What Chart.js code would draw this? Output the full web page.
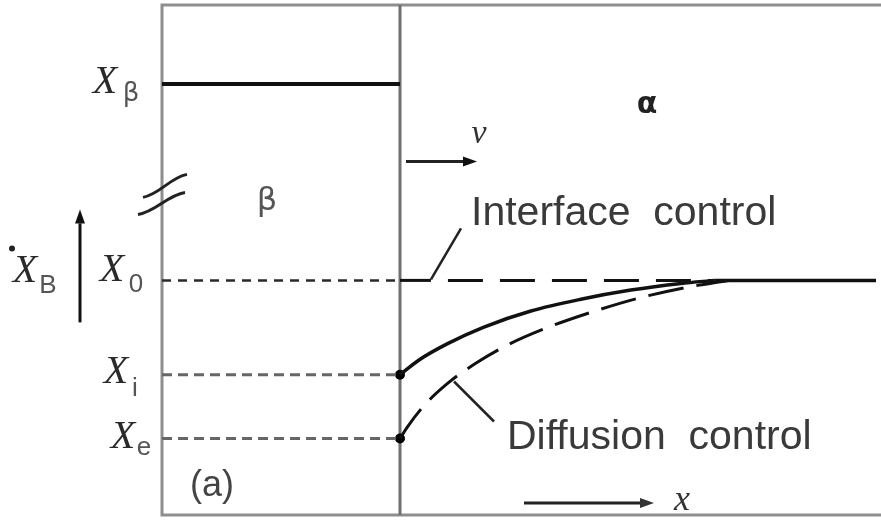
<!DOCTYPE html>
<html>
<head>
<meta charset="utf-8">
<script src="https://cdn.jsdelivr.net/npm/chart.js@4.4.1/dist/chart.umd.min.js"></script>
<style>
  html, body { margin: 0; padding: 0; background: #fff; }
  #wrap { position: relative; width: 881px; height: 520px; }
</style>
</head>
<body>
<div id="wrap"><canvas id="profile"></canvas></div>
<script>
// Composition levels along the X_B axis (plotting units, axis is broken above X0)
const LEVEL_SUBS   = ['e', 'i', '0', 'β'];
const LEVEL_VALUES = [1.5, 2.75, 4.6, 8.45];
const [X_E, X_I, X_0, X_BETA] = LEVEL_VALUES;

// Distance from the β/α interface; β sits on the negative side
const X_RANGE = [-1, 2];
const Y_RANGE = [0, 10];

// Mixed control profile in α (starts at Xi on the interface)
const mixedX = [0, 0.08, 0.2, 0.35, 0.55, 0.76, 0.97, 1.18, 1.32];
const mixedY = [2.75, 3.04, 3.36, 3.68, 4.0, 4.23, 4.41, 4.54, 4.6];

// Diffusion control profile in α (starts at Xe on the interface)
const diffX = [0, 0.03, 0.1, 0.2, 0.32, 0.45, 0.6, 0.8, 1.0, 1.2, 1.38];
const diffY = [1.5, 1.72, 2.14, 2.58, 2.98, 3.33, 3.64, 3.97, 4.25, 4.46, 4.6];

// Interface control: flat at X0 — solid stub, dashed run, then solid far field
const flatBreaks = [0, 0.13, 1.32, 2.0];

const pts = (xs, ys) => xs.map((x, i) => ({ x, y: ys[i] }));
const hline = (x0, x1, y) => [{ x: x0, y }, { x: x1, y }];

function lineSet(data, color, width, dash, extra) {
  return Object.assign({
    data,
    showLine: true,
    borderColor: color,
    borderWidth: width,
    borderDash: dash || [],
    pointRadius: 0,
    fill: false
  }, extra || {});
}

// ── Frame: β box, interface, top edge ─────────────────────────────────────
const framePlugin = {
  id: 'frame',
  beforeDatasetsDraw(chart) {
    const { ctx, chartArea: a, scales: { x } } = chart;
    ctx.save();
    ctx.strokeStyle = '#8e8e8e';
    ctx.lineWidth = 3;
    ctx.beginPath();
    ctx.moveTo(chart.width, a.top);
    ctx.lineTo(a.left, a.top);
    ctx.lineTo(a.left, a.bottom);
    ctx.lineTo(chart.width, a.bottom);
    ctx.stroke();
    ctx.strokeStyle = '#707070';
    ctx.beginPath();
    ctx.moveTo(x.getPixelForValue(0), a.top);
    ctx.lineTo(x.getPixelForValue(0), a.bottom);
    ctx.stroke();
    ctx.restore();
  }
};

// ── Labels, arrows and leaders ────────────────────────────────────────────
function arrow(ctx, x0, y0, x1, y1) {
  const ang = Math.atan2(y1 - y0, x1 - x0);
  const len = 14, half = 5;
  ctx.beginPath();
  ctx.moveTo(x0, y0);
  ctx.lineTo(x1 - Math.cos(ang) * len, y1 - Math.sin(ang) * len);
  ctx.stroke();
  ctx.beginPath();
  ctx.moveTo(x1, y1);
  ctx.lineTo(x1 - Math.cos(ang) * len - Math.sin(ang) * half, y1 - Math.sin(ang) * len + Math.cos(ang) * half);
  ctx.lineTo(x1 - Math.cos(ang) * len + Math.sin(ang) * half, y1 - Math.sin(ang) * len - Math.cos(ang) * half);
  ctx.closePath();
  ctx.fill();
}

function wave(ctx, x0, y0, x1, y1) {
  const dx = x1 - x0, dy = y1 - y0;
  const d = Math.hypot(dx, dy), nx = -dy / d * 5, ny = dx / d * 5;
  ctx.beginPath();
  ctx.moveTo(x0, y0);
  ctx.bezierCurveTo(x0 + dx / 3 + nx, y0 + dy / 3 + ny, x0 + 2 * dx / 3 - nx, y0 + 2 * dy / 3 - ny, x1, y1);
  ctx.stroke();
}

function text(ctx, str, x, y, font, color, align, base) {
  ctx.font = font;
  ctx.fillStyle = color;
  ctx.textAlign = align || 'center';
  ctx.textBaseline = base || 'middle';
  ctx.fillText(str, x, y);
}

const annotatePlugin = {
  id: 'annotate',
  afterDatasetsDraw(chart) {
    const { ctx, scales: { x, y } } = chart;
    const left = x.getPixelForValue(X_RANGE[0]);
    const iface = x.getPixelForValue(0);
    const bottom = y.getPixelForValue(Y_RANGE[0]);
    const XFONT = 'italic 40px "Liberation Serif"';
    const SUBFONT = '26px "Liberation Sans"';
    ctx.save();

    // level labels X_e, X_i, X_0, X_β  (offsets: X centre dx,dy ; subscript dx,dy)
    const place = [[-39, -1, -18, 9], [-46, -2, -27, 14], [-50, -10, -26, 4], [-57, -2, -31, 10]];
    LEVEL_VALUES.forEach((v, i) => {
      const ly = y.getPixelForValue(v);
      const p = place[i];
      text(ctx, 'X', left + p[0], ly + p[1], XFONT, '#2a2a2a');
      text(ctx, LEVEL_SUBS[i], left + p[2], ly + p[3],
        LEVEL_SUBS[i] === 'β' ? '26px "DejaVu Sans"' : SUBFONT, '#555');
    });

    // axis label •X_B with upward arrow
    const y0 = y.getPixelForValue(X_0);
    ctx.fillStyle = '#222';
    ctx.beginPath(); ctx.arc(12, y0 - 32, 3, 0, Math.PI * 2); ctx.fill();
    text(ctx, 'X', 25, y0 - 9, XFONT, '#2a2a2a');
    text(ctx, 'B', 48, y0 + 5, SUBFONT, '#555');
    ctx.strokeStyle = '#111';
    ctx.fillStyle = '#111';
    ctx.lineWidth = 3;
    arrow(ctx, 80, y0 + 42, 80, y0 - 71);

    // axis break on the left edge
    ctx.lineWidth = 3;
    ctx.strokeStyle = '#222';
    wave(ctx, left - 19, y0 - 83, left + 25, y0 - 106);
    wave(ctx, left - 24, y0 - 66, left + 23, y0 - 88);

    // phase names
    text(ctx, 'β', left + 105, y0 - 79, '32px "DejaVu Sans"', '#555');
    text(ctx, 'α', iface + 247, y.getPixelForValue(X_BETA) + 21, 'bold 30px "DejaVu Sans"', '#222');
    text(ctx, '(a)', left + 50, bottom - 29, '36px "Liberation Sans"', '#444');

    // interface velocity
    ctx.lineWidth = 3;
    ctx.strokeStyle = '#222';
    ctx.fillStyle = '#111';
    arrow(ctx, iface + 6, y0 - 119, iface + 77, y0 - 119);
    text(ctx, 'v', iface + 79, y0 - 146, 'italic 34px "Liberation Serif"', '#333');

    // distance axis
    arrow(ctx, iface + 124, bottom - 12, iface + 254, bottom - 12);
    text(ctx, 'x', iface + 282, bottom - 14, 'italic 36px "Liberation Serif"', '#333');

    // leaders and captions
    ctx.lineWidth = 2.5;
    ctx.strokeStyle = '#222';
    ctx.beginPath();
    ctx.moveTo(iface + 31, y0 - 1);
    ctx.lineTo(iface + 61, y0 - 52);
    ctx.stroke();
    text(ctx, 'Interface  control', iface + 71, y0 - 55, '41px "Liberation Sans"', '#3a3a3a', 'left', 'alphabetic');

    const ye = y.getPixelForValue(X_E);
    ctx.beginPath();
    ctx.moveTo(iface + 54, ye - 57);
    ctx.lineTo(iface + 94, ye - 17);
    ctx.stroke();
    text(ctx, 'Diffusion  control', iface + 107, ye + 10, '41px "Liberation Sans"', '#3a3a3a', 'left', 'alphabetic');

    ctx.restore();
  }
};

// ── Chart ─────────────────────────────────────────────────────────────────
const datasets = [
  lineSet(hline(X_RANGE[0], 0, X_BETA), '#111', 4),
  lineSet(hline(X_RANGE[0], 0, X_0), '#2a2a2a', 2.5, [9, 7]),
  lineSet(hline(X_RANGE[0], 0, X_I), '#666', 3, [10, 6]),
  lineSet(hline(X_RANGE[0], 0, X_E), '#666', 3, [10, 6]),
  lineSet(hline(flatBreaks[0], flatBreaks[1], X_0), '#111', 3),
  lineSet(hline(flatBreaks[1], flatBreaks[2], X_0), '#111', 3, [35, 17], { borderDashOffset: 35 }),
  lineSet(hline(flatBreaks[2], flatBreaks[3], X_0), '#111', 3.5),
  lineSet(pts(mixedX, mixedY), '#111', 3.5, [], { cubicInterpolationMode: 'monotone' }),
  lineSet(pts(diffX, diffY), '#111', 3, [36, 13], { cubicInterpolationMode: 'monotone' }),
  {
    data: [{ x: 0, y: X_I }, { x: 0, y: X_E }],
    showLine: false,
    pointRadius: 5,
    pointBackgroundColor: '#000',
    pointBorderWidth: 0
  }
];

new Chart(document.getElementById('profile'), {
  type: 'scatter',
  data: { datasets },
  options: {
    responsive: true,
    maintainAspectRatio: false,
    animation: false,
    events: [],
    layout: { padding: { left: 162, top: 5, right: 2, bottom: 2 } },
    plugins: { legend: { display: false }, tooltip: { enabled: false } },
    scales: {
      x: { type: 'linear', min: X_RANGE[0], max: X_RANGE[1], display: false },
      y: { type: 'linear', min: Y_RANGE[0], max: Y_RANGE[1], display: false }
    }
  },
  plugins: [framePlugin, annotatePlugin]
});
</script>
</body>
</html>
